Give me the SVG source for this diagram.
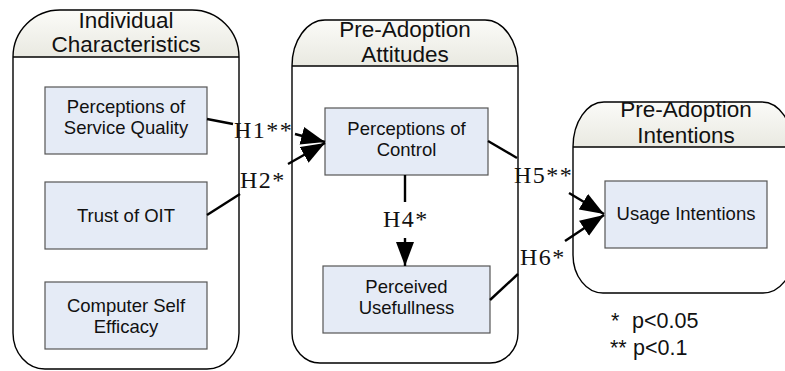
<svg xmlns="http://www.w3.org/2000/svg" width="785" height="371" viewBox="0 0 785 371">
<defs>
<linearGradient id="hdr" x1="0" y1="0" x2="0" y2="1">
<stop offset="0" stop-color="#fbfbf8"/>
<stop offset="1" stop-color="#e9e9e1"/>
</linearGradient>
<marker id="arr" markerUnits="userSpaceOnUse" markerWidth="25" markerHeight="19" refX="24" refY="9" orient="auto">
<path d="M0,0 L24,9 L0,18 Z" fill="#000"/>
</marker>
<style>
.cont{fill:none;stroke:#000;stroke-width:1.4}
.hdr{fill:url(#hdr);stroke:none}
.hl{stroke:#000;stroke-width:1.4}
.ht{font-family:"Liberation Sans",Arial,sans-serif;font-size:22.5px;fill:#111;text-anchor:middle}
.box{fill:#e5ebf6;stroke:#555;stroke-width:1.2}
.bt{font-family:"Liberation Sans",Arial,sans-serif;font-size:18.5px;fill:#111;text-anchor:middle}
.ln{stroke:#000;stroke-width:2.4;fill:none}
.ar{stroke:#000;stroke-width:2.4;fill:none;marker-end:url(#arr)}
.lab{font-family:"Liberation Serif","Times New Roman",serif;font-size:24px;fill:#111;letter-spacing:1.5px}
.leg{font-family:"Liberation Sans",Arial,sans-serif;font-size:21.5px;fill:#111}
</style>
</defs>

<g id="container-individual">
<path class="hdr" d="M13,57 A47,47 0 0 1 60,10 L192,10 A47,47 0 0 1 239,57 Z"/>
<path class="cont" d="M13,57 A47,47 0 0 1 60,10 L192,10 A47,47 0 0 1 239,57 L239,333 A32,36 0 0 1 207,369 L45,369 A32,36 0 0 1 13,333 Z"/>
<line class="hl" x1="13" y1="57" x2="239" y2="57"/>
<text class="ht" x="126" y="28">Individual</text>
<text class="ht" x="126" y="52">Characteristics</text>
</g>

<g id="container-attitudes">
<path class="hdr" d="M292,66 A33,46 0 0 1 325,20 L485,20 A33,46 0 0 1 518,66 Z"/>
<path class="cont" d="M292,66 A33,46 0 0 1 325,20 L485,20 A33,46 0 0 1 518,66 L518,333 A28,30 0 0 1 490,363 L320,363 A28,30 0 0 1 292,333 Z"/>
<line class="hl" x1="292" y1="66" x2="518" y2="66"/>
<text class="ht" x="405" y="37">Pre-Adoption</text>
<text class="ht" x="405" y="62">Attitudes</text>
</g>

<g id="container-intentions">
<path class="hdr" d="M573,147 A31,45 0 0 1 604,102 L762,102 A31,45 0 0 1 793,147 Z"/>
<path class="cont" d="M573,147 A31,45 0 0 1 604,102 L762,102 A31,45 0 0 1 793,147 L793,255 A30,38 0 0 1 763,293 L603,293 A30,38 0 0 1 573,255 Z"/>
<line class="hl" x1="573" y1="147" x2="793" y2="147"/>
<text class="ht" x="686" y="117">Pre-Adoption</text>
<text class="ht" x="686" y="143">Intentions</text>
</g>

<g id="node-service-quality">
<rect class="box" x="45" y="87" width="162" height="67"/>
<text class="bt" x="126" y="113">Perceptions of</text>
<text class="bt" x="126" y="134">Service Quality</text>
</g>
<g id="node-trust">
<rect class="box" x="45" y="182" width="162" height="67"/>
<text class="bt" x="126" y="222">Trust of OIT</text>
</g>
<g id="node-self-efficacy">
<rect class="box" x="45" y="282" width="162" height="67"/>
<text class="bt" x="126" y="312">Computer Self</text>
<text class="bt" x="126" y="333">Efficacy</text>
</g>
<g id="node-control">
<rect class="box" x="325" y="108" width="163" height="67"/>
<text class="bt" x="406.5" y="135">Perceptions of</text>
<text class="bt" x="406.5" y="156">Control</text>
</g>
<g id="node-usefulness">
<rect class="box" x="323" y="266" width="167" height="67"/>
<text class="bt" x="406.5" y="293">Perceived</text>
<text class="bt" x="406.5" y="314">Usefullness</text>
</g>
<g id="node-usage">
<rect class="box" x="605" y="181" width="162" height="67"/>
<text class="bt" x="686" y="220">Usage Intentions</text>
</g>

<g id="connectors">
<line class="ln" x1="207" y1="119" x2="233" y2="124"/>
<line class="ar" x1="295" y1="134" x2="325" y2="142"/>
<line class="ln" x1="207" y1="215" x2="240" y2="194"/>
<line class="ar" x1="288" y1="164" x2="325" y2="143"/>
<line class="ln" x1="405" y1="175" x2="405" y2="202"/>
<line class="ar" x1="405" y1="238" x2="405" y2="266"/>
<line class="ln" x1="488" y1="141" x2="517" y2="158"/>
<line class="ar" x1="569" y1="193" x2="604" y2="214"/>
<line class="ln" x1="490" y1="300" x2="518" y2="274"/>
<line class="ar" x1="565" y1="241" x2="604" y2="215"/>
<text class="lab" x="234" y="138">H1**</text>
<text class="lab" x="240" y="188">H2*</text>
<text class="lab" x="383" y="227">H4*</text>
<text class="lab" x="514" y="183">H5**</text>
<text class="lab" x="520" y="265">H6*</text>
</g>

<g id="legend">
<text class="leg"><tspan x="611" y="328">*</tspan><tspan x="632" y="328">p&lt;0.05</tspan><tspan x="610" y="355">**</tspan><tspan x="633" y="355">p&lt;0.1</tspan></text>
</g>
</svg>
